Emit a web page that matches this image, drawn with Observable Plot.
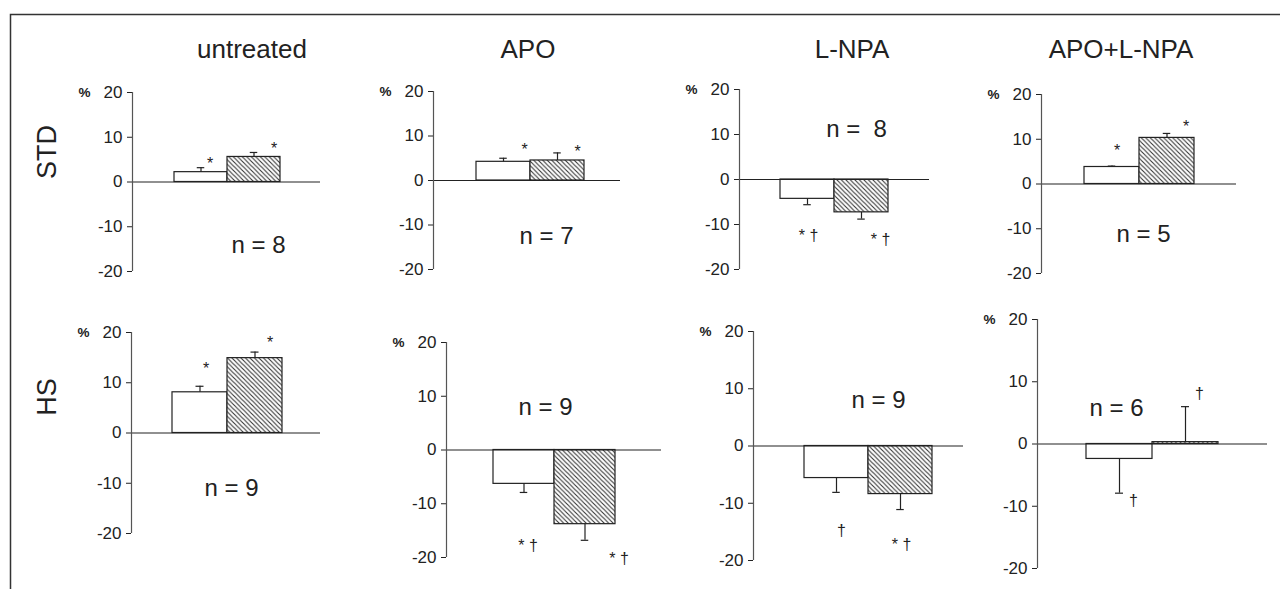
<!DOCTYPE html>
<html><head><meta charset="utf-8">
<script src="https://cdn.jsdelivr.net/npm/d3@7"></script>
<script src="https://cdn.jsdelivr.net/npm/@observablehq/plot@0.6"></script>
<style>
body{margin:0;background:#fff;}
#fig{position:relative;width:1280px;height:589px;overflow:hidden;font-family:"Liberation Sans",Arial,sans-serif;color:#222;background:#fff;}
#fig svg{position:absolute;left:0;top:0;}
</style></head><body><div id="fig"></div>
<script>
// ---- data (row-major: STD row then HS row) ----
const treatments = ["untreated", "APO", "L-NPA", "APO+L-NPA"];
const diets = ["STD", "HS"];
const series = ["open", "hatched"];
const openMean    = [2.2, 4.2, -4.3, 3.8,   8.1, -6.3, -5.6, -2.4];
const openSEM     = [1.0, 0.8,  1.3, 0.2,   1.2,  1.6,  2.5,  5.5];
const hatchedMean = [5.6, 4.5, -7.3, 10.3, 14.9, -13.8, -8.4, 0.3];
const hatchedSEM  = [1.0, 1.7,  1.5, 1.0,   1.2,  3.0,  2.7,  5.7];
const nLabels     = ["n = 8", "n = 7", "n =  8", "n = 5", "n = 9", "n = 9", "n = 9", "n = 6"];
const openSig     = ["*", "*", "* †", "*", "*", "* †", "†", "†"];
const hatchedSig  = ["*", "*", "* †", "*", "*", "* †", "* †", "†"];
const yTicks = [-20, -10, 0, 10, 20];

// ---- layout (pixels) ----
const W = 1280, H = 589;
const layout = [
  {axis:132,  top:92,  bottom:271, bars:[173,280],  end:320,  n:[258,245],  oOff:[9,-4],  hOff:[20,-4]},
  {axis:433,  top:91,  bottom:269, bars:[475,584],  end:620,  n:[546,236],  oOff:[21,-8], hOff:[20,-1]},
  {axis:739,  top:89,  bottom:269, bars:[779,888],  end:929,  n:[856,129],  oOff:[1,31],  hOff:[19,21]},
  {axis:1041, top:94,  bottom:273, bars:[1083,1194],end:1236, n:[1143,234], oOff:[5,-15], hOff:[19,-7]},
  {axis:131,  top:332, bottom:533, bars:[172,282],  end:320,  n:[231,488],  oOff:[6,-17], hOff:[15,-9]},
  {axis:446,  top:342, bottom:557, bars:[492,615],  end:661,  n:[545,407],  oOff:[4,53],  hOff:[34,19]},
  {axis:753,  top:331, bottom:560, bars:[803,932],  end:963,  n:[878,400],  oOff:[5,39],  hOff:[1,35]},
  {axis:1037, top:319, bottom:568, bars:[1086,1218],end:1267, n:[1116,408], oOff:[14,8],  hOff:[14,-13]}
];
const titleX = [252, 528, 852, 1121];
const rowY = [152, 397];
const FONT = '"Liberation Sans", Arial, sans-serif';

const fig = d3.select("#fig");

// base layer: frame, column titles, row labels
const base = fig.append("svg").attr("width", W).attr("height", H).style("font-family", FONT);
base.append("path").attr("d", `M10.5,${H}V14.5H${W}`).attr("fill", "none")
  .attr("stroke", "#333").attr("stroke-width", 1.5);
base.selectAll("text.title").data(treatments).join("text").attr("class", "title")
  .attr("x", (d, i) => titleX[i]).attr("y", 58).attr("text-anchor", "middle")
  .attr("font-size", 26).attr("fill", "#222").text(d => d);
base.selectAll("text.row").data(diets).join("text").attr("class", "row")
  .attr("transform", (d, i) => `translate(47,${rowY[i]}) rotate(-90)`)
  .attr("text-anchor", "middle").attr("dominant-baseline", "central")
  .attr("font-size", 27).attr("fill", "#222").text(d => d);

layout.forEach((L, i) => {
  const rows = [
    {series: "open", value: openMean[i], sem: openSEM[i], sig: openSig[i]},
    {series: "hatched", value: hatchedMean[i], sem: hatchedSEM[i], sig: hatchedSig[i]}
  ].map(d => ({...d, end: d.value + Math.sign(d.value) * d.sem}));
  const bw = (L.bars[1] - L.bars[0]) / 2;
  const capInset = (bw - 8) / 2;
  const pid = `hatch${i}`;
  const chart = Plot.plot({
    width: W, height: H,
    marginLeft: L.axis, marginRight: W - L.end, marginTop: L.top, marginBottom: H - L.bottom,
    style: {background: "transparent", overflow: "visible", color: "#222", fontSize: "17px", fontFamily: FONT},
    x: {type: "band", domain: series, range: L.bars, padding: 0, axis: null},
    y: {domain: [-20, 20], ticks: yTicks, tickSize: 5, tickPadding: 5, label: null,
        tickFormat: () => ""},
    marks: [
      Plot.text(yTicks, {frameAnchor: "left", y: d => d, text: d => String(d), textAnchor: "end",
        dx: -10, fontSize: 17, fill: "#222"}),
      Plot.barY(rows.filter(d => d.series === "open"), {x: "series", y: "value", fill: "white", stroke: "#222", strokeWidth: 1.2}),
      Plot.barY(rows.filter(d => d.series === "hatched"), {x: "series", y: "value", fill: `url(#${pid})`, stroke: "#222", strokeWidth: 1.2}),
      Plot.ruleY([0], {stroke: "#222", strokeWidth: 1.2}),
      Plot.ruleX(rows, {x: "series", y1: "value", y2: "end", stroke: "#222", strokeWidth: 1.2}),
      Plot.tickY(rows, {x: "series", y: "end", insetLeft: capInset, insetRight: capInset, stroke: "#222", strokeWidth: 1.2}),
      Plot.text([rows[0]], {x: "series", y: "end", text: "sig", dx: L.oOff[0], dy: L.oOff[1], fontSize: 16, fill: "#222"}),
      Plot.text([rows[1]], {x: "series", y: "end", text: "sig", dx: L.hOff[0], dy: L.hOff[1], fontSize: 16, fill: "#222"}),
      Plot.text([nLabels[i]], {frameAnchor: "top-left", textAnchor: "middle", lineAnchor: "middle",
        text: d => d, dx: L.n[0] - L.axis, dy: L.n[1] - L.top, fontSize: 24, fill: "#222"}),
      Plot.text(["%"], {frameAnchor: "top-left", textAnchor: "middle", lineAnchor: "middle",
        text: d => d, dx: -48, fontSize: 13.5, fontWeight: "bold", fill: "#222"})
    ]
  });
  const svg = d3.select(chart);
  const defs = svg.insert("defs", ":first-child");
  const p = defs.append("pattern").attr("id", pid).attr("patternUnits", "userSpaceOnUse")
    .attr("width", 4.5).attr("height", 4.5);
  p.append("rect").attr("width", 4.5).attr("height", 4.5).attr("fill", "white");
  p.append("path").attr("d", "M0,0L4.5,4.5M-1,3.5L1,5.5M3.5,-1L5.5,1")
    .attr("stroke", "#333").attr("stroke-width", 1.1);
  // y axis line
  svg.append("line").attr("x1", L.axis + 0.5).attr("x2", L.axis + 0.5)
    .attr("y1", L.top).attr("y2", L.bottom).attr("stroke", "#555").attr("stroke-width", 1.2);
  fig.node().appendChild(chart);
});
</script>
</body></html>
